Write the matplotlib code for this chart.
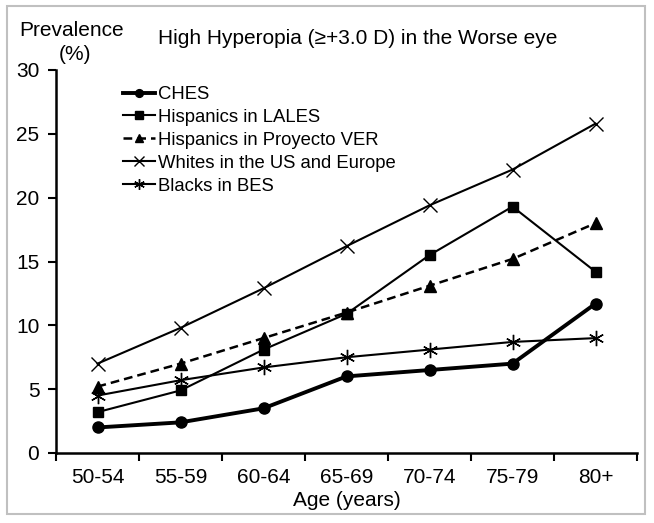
import matplotlib.pyplot as plt
import numpy as np
from matplotlib.patches import Rectangle

plt.rcParams['font.family'] = ['Liberation Sans', 'DejaVu Sans']

ages = ["50-54", "55-59", "60-64", "65-69", "70-74", "75-79", "80+"]
ches = [2.0, 2.4, 3.5, 6.0, 6.5, 7.0, 11.7]
lales = [3.2, 4.9, 8.1, 10.9, 15.5, 19.3, 14.2]
proyecto_ver = [5.2, 7.0, 9.0, 11.0, 13.1, 15.2, 18.0]
whites = [7.0, 9.8, 12.9, 16.2, 19.4, 22.2, 25.8]
blacks = [4.5, 5.7, 6.7, 7.5, 8.1, 8.7, 9.0]

W, H = 654, 523
fig = plt.figure(figsize=(W/100, H/100), dpi=100)
ax = fig.add_axes([56/W, 1-453/H, (637-56)/W, (453-70)/H])

# gray frame round the whole picture
fig.patches.append(Rectangle((7/W, 1-514/H), (645-7)/W, (514-6)/H,
                             transform=fig.transFigure, fill=False,
                             edgecolor="#c0c0c0", linewidth=1.5))

x = np.arange(len(ages))
ax.plot(x, ches, color="k", lw=2.8, marker="o", ms=8, label="CHES")
ax.plot(x, lales, color="k", lw=1.5, marker="s", ms=7.5, label="Hispanics in LALES")
ax.plot(x, proyecto_ver, color="k", lw=1.8, ls=(0, (3.5, 2)), marker="^", ms=8.5,
        label="Hispanics in Proyecto VER")
ax.plot(x, whites, color="k", lw=1.5, marker="x", ms=10, mew=1, label="Whites in the US and Europe")
ax.plot(x, blacks, color="k", lw=1.5, marker=(6, 2, 0), ms=11, mew=1, label="Blacks in BES")

ax.set_xlim(-0.5, len(ages) - 0.5)
ax.set_ylim(0, 30)
ax.set_yticks(range(0, 31, 5))
ax.set_xticks(x)
ax.set_xticklabels(ages)
ax.set_xticks(np.arange(-0.5, len(ages)), minor=True)
ax.tick_params(axis="x", which="major", length=0, labelsize=15, pad=11)
ax.tick_params(axis="x", which="minor", length=6, width=1.5, direction="out")
ax.tick_params(axis="y", length=6, width=1.5, direction="out", labelsize=15, pad=6)

for s in ["top", "right"]:
    ax.spines[s].set_visible(False)
for s in ["left", "bottom"]:
    ax.spines[s].set_linewidth(1.8)

ax.set_xlabel("Age (years)", fontsize=15, labelpad=3)
fig.text(72/W, 1-30/H, "Prevalence", ha="center", va="center", fontsize=15)
fig.text(75/W, 1-55/H, "(%)", ha="center", va="center", fontsize=15)
fig.text(358/W, 1-38/H, "High Hyperopia (\u2265+3.0 D) in the Worse eye",
         ha="center", va="center", fontsize=15)

fig.legend(loc="upper left", bbox_to_anchor=(123/W, 1-86/H), frameon=False,
           fontsize=13.3, handlelength=1.73, handletextpad=0.16, labelspacing=0.32,
           borderpad=0, borderaxespad=0, markerscale=0.7)

fig.savefig("out.png", dpi=100)
